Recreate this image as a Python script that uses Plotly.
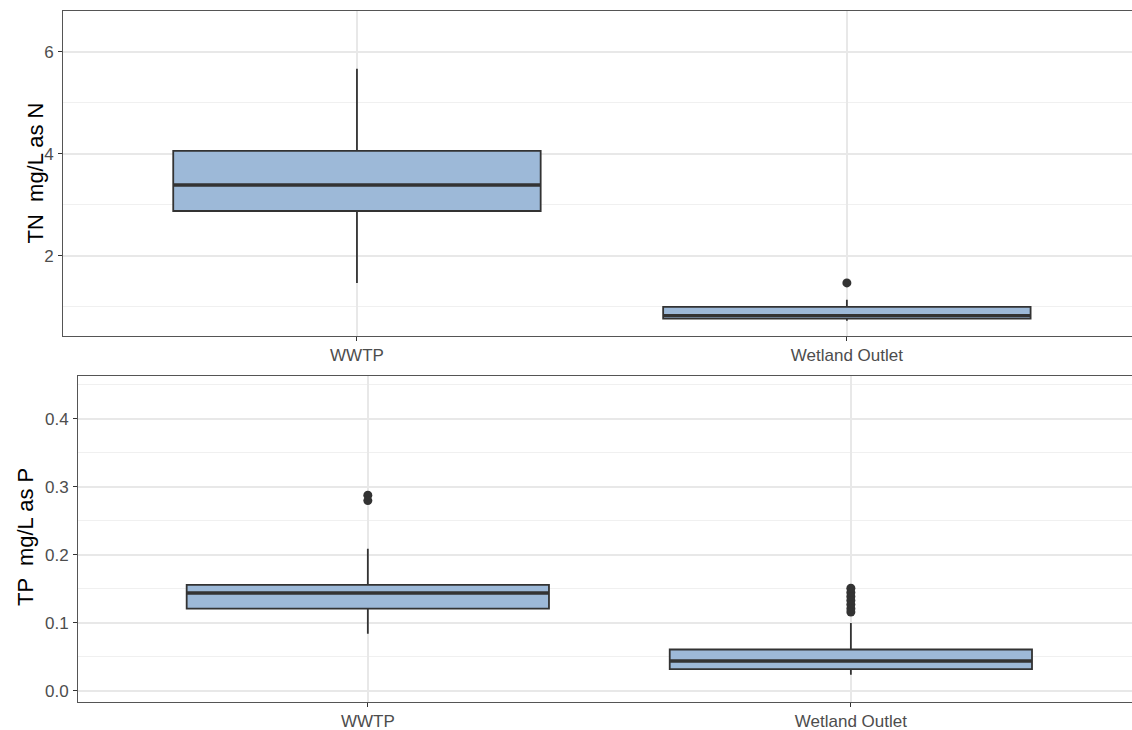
import plotly.graph_objects as go

# ---- data ----
categories = ["WWTP", "Wetland Outlet"]

tn_q1 = [2.88, 0.77]
tn_median = [3.39, 0.83]
tn_q3 = [4.06, 1.00]
tn_lower = [1.47, 0.73]
tn_upper = [5.67, 1.14]
tn_outliers_cat = [2]
tn_outliers_val = [1.47]

tp_q1 = [0.121, 0.032]
tp_median = [0.144, 0.044]
tp_q3 = [0.156, 0.061]
tp_lower = [0.084, 0.024]
tp_upper = [0.209, 0.100]
tp_outliers_cat = [1, 1, 2, 2, 2, 2, 2, 2, 2]
tp_outliers_val = [0.288, 0.280, 0.151, 0.145, 0.139, 0.133, 0.127, 0.121, 0.116]

tn_ticks = [2, 4, 6]
tp_ticks = [0.0, 0.1, 0.2, 0.3, 0.4]

# ---- style ----
W, H = 1132, 730
FILL = "#9DB9D8"
DARK = "#333333"
BOXW = 0.75
FONT = "Liberation Sans, Arial, sans-serif"

fig = go.Figure()
xpos = list(range(1, len(categories) + 1))


def add_panel(xa, ya, q1, med, q3, lo, hi, ocat, oval):
    fig.add_trace(go.Box(
        x=xpos, q1=q1, median=med, q3=q3, lowerfence=lo, upperfence=hi,
        width=BOXW, fillcolor=FILL, line=dict(color=DARK, width=1.8),
        whiskerwidth=0, boxpoints=False, showlegend=False,
        xaxis=xa, yaxis=ya, hoverinfo="skip"))
    mx, my = [], []
    for p, m in zip(xpos, med):
        mx += [p - BOXW / 2, p + BOXW / 2, None]
        my += [m, m, None]
    fig.add_trace(go.Scatter(x=mx, y=my, mode="lines",
                             line=dict(color=DARK, width=3.4),
                             showlegend=False, xaxis=xa, yaxis=ya, hoverinfo="skip"))
    fig.add_trace(go.Scatter(x=ocat, y=oval, mode="markers",
                             marker=dict(color=DARK, size=9),
                             showlegend=False, xaxis=xa, yaxis=ya, hoverinfo="skip"))


add_panel("x", "y", tn_q1, tn_median, tn_q3, tn_lower, tn_upper, tn_outliers_cat, tn_outliers_val)
add_panel("x2", "y2", tp_q1, tp_median, tp_q3, tp_lower, tp_upper, tp_outliers_cat, tp_outliers_val)

xcommon = dict(
    tickmode="array", tickvals=xpos, ticktext=categories,
    range=[0.4, 2.582], showgrid=True, gridcolor="#E8E8E8", gridwidth=1.5,
    zeroline=False, showline=True, linecolor="#555555", linewidth=1, mirror=True,
    ticks="outside", ticklen=4, tickcolor=DARK, tickwidth=1,
    tickfont=dict(family=FONT, size=17, color="#4D4D4D"),
)
ycommon = dict(
    showgrid=True, gridcolor="#E8E8E8", gridwidth=1.5, zeroline=False,
    showline=True, linecolor="#555555", linewidth=1, mirror=False,
    ticks="outside", ticklen=4, tickcolor=DARK, tickwidth=1,
    ticklabelstandoff=1,
    tickfont=dict(family=FONT, size=17, color="#4D4D4D"),
)

fig.update_layout(
    width=W, height=H,
    margin=dict(l=0, r=0, t=0, b=0),
    paper_bgcolor="white", plot_bgcolor="white",
    xaxis=dict(xcommon, domain=[63 / W, 1], anchor="y", automargin=False),
    yaxis=dict(ycommon, domain=[1 - 336 / H, 1 - 11 / H], anchor="x",
               range=[0.43, 6.80], tickvals=tn_ticks, ticktext=[str(t) for t in tn_ticks],
               minor=dict(dtick=1, tick0=0, showgrid=True, gridcolor="#F0F0F0", gridwidth=1),
               automargin=False),
    xaxis2=dict(xcommon, domain=[78 / W, 1], anchor="y2", automargin=False),
    yaxis2=dict(ycommon, domain=[1 - 702 / H, 1 - 376 / H], anchor="x2",
                range=[-0.0162, 0.4632], tickvals=tp_ticks, ticktext=[f"{t:.1f}" for t in tp_ticks],
                minor=dict(dtick=0.05, tick0=0, showgrid=True, gridcolor="#F0F0F0", gridwidth=1),
                automargin=False),
    annotations=[
        dict(text="TN  mg/L as N", x=35 / W, y=1 - 173.5 / H, xref="paper", yref="paper",
             textangle=-90, showarrow=False, xanchor="center", yanchor="middle",
             font=dict(family=FONT, size=22, color="black")),
        dict(text="TP  mg/L as P", x=25 / W, y=1 - 537 / H, xref="paper", yref="paper",
             textangle=-90, showarrow=False, xanchor="center", yanchor="middle",
             font=dict(family=FONT, size=22, color="black")),
    ],
)

fig.write_html("out.html", config={"displayModeBar": False})

# remove the default page margin so the figure fills the window exactly
with open("out.html", "r", encoding="utf-8") as f:
    html = f.read()
html = html.replace("<head>", "<head><style>html,body{margin:0;padding:0;overflow:hidden;}</style>", 1)
with open("out.html", "w", encoding="utf-8") as f:
    f.write(html)
